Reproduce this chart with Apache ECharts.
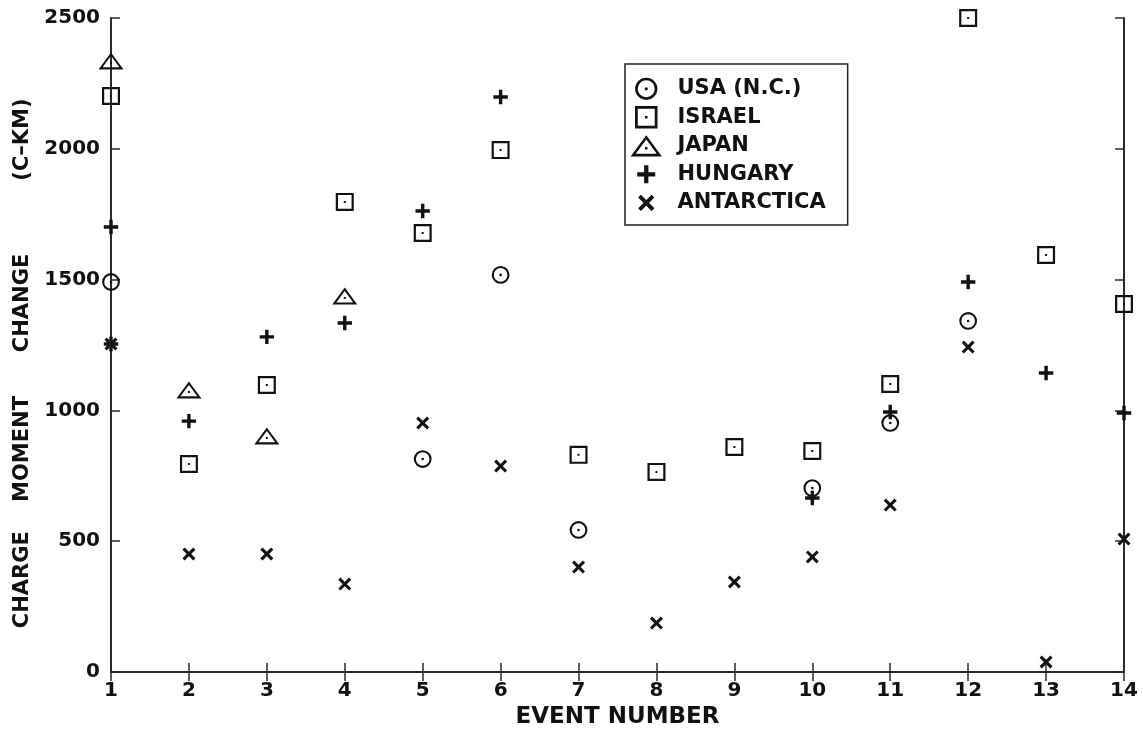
<!DOCTYPE html>
<html>
<head>
<meta charset="utf-8">
<script src="https://cdn.jsdelivr.net/npm/echarts@6/dist/echarts.min.js"></script>
<style>
html,body{margin:0;padding:0;background:#fff;}
#chart{width:1143px;height:748px;}
</style>
</head>
<body>
<div id="chart"></div>
<script>
// ---- data: [event number, charge moment change (C-km)] ----
const seriesNames = ['USA (N.C.)', 'ISRAEL', 'JAPAN', 'HUNGARY', 'ANTARCTICA'];
const usa = [[1,1491],[5,814],[6,1518],[7,543],[10,703],[11,952],[12,1342]];
const israel = [[1,2202],[2,795],[3,1097],[4,1797],[5,1678],[6,1995],[7,830],[8,765],[9,860],[10,845],[11,1101],[12,2500],[13,1594],[14,1407]];
const japan = [[1,2336],[2,1078],[3,902],[4,1437]];
const hungary = [[1,1701],[1,1254],[2,959],[3,1281],[4,1334],[5,1762],[6,2198],[10,665],[11,994],[12,1491],[13,1143],[14,990]];
const antarctica = [[1,1254],[2,451],[3,451],[4,336],[5,952],[6,787],[7,401],[8,187],[9,344],[10,440],[11,638],[12,1242],[13,38],[14,508]];
const xTicks = [1,2,3,4,5,6,7,8,9,10,11,12,13,14];
const yTicks = [0,500,1000,1500,2000,2500];

// ---- marker shapes (26x26 box, centred) ----
const BOX = 'M0,0 Z M26,26 Z ';
const symCircle = 'path://' + BOX +
  'M4.1,13 A8.9,8.9 0 1,0 21.9,13 A8.9,8.9 0 1,0 4.1,13 Z ' +
  'M6.2,13 A6.8,6.8 0 1,1 19.8,13 A6.8,6.8 0 1,1 6.2,13 Z ' +
  'M11.7,13 A1.3,1.3 0 1,0 14.3,13 A1.3,1.3 0 1,0 11.7,13 Z';
const symSquare = 'path://' + BOX +
  'M4,4 H22 V22 H4 Z M6.2,6.2 V19.8 H19.8 V6.2 Z M12,12 H14 V14 H12 Z';
const symTriangle = 'path://' + BOX +
  'M0.5,21.5 L13,4.5 L25.5,21.5 Z M4.6,19.3 L21.4,19.3 L13,7.9 Z M12,14 H14 V16 H12 Z';
const symPlus = 'path://' + BOX +
  'M5.8,11.3 H20.2 V14.7 H5.8 Z M11.3,5.8 H14.7 V20.2 H11.3 Z';
const symX = 'path://' + BOX +
  'M6.5,8.7 L8.7,6.5 L19.5,17.3 L17.3,19.5 Z M17.3,6.5 L19.5,8.7 L8.7,19.5 L6.5,17.3 Z';

const FONT = 'DejaVu Sans';
const INK = '#111';
const AXIS = '#2a2a2a';

function mk(name, data, symbol) {
  return {
    name: name, type: 'scatter', data: data,
    symbol: symbol, symbolSize: 26, symbolKeepAspect: true,
    clip: false,
    itemStyle: {color: INK, opacity: 1, borderWidth: 0},
    emphasis: {disabled: true},
    xAxisIndex: 0, yAxisIndex: 0
  };
}

const sp = n => '\u00a0'.repeat(n);
const yName = 'CHARGE' + sp(4) + 'MOMENT' + sp(6) + 'CHANGE' + sp(10) + '(C\u2013KM)' + sp(5);

const chart = echarts.init(document.getElementById('chart'), null, {renderer: 'canvas'});
const axisCommon = {
  axisLine: {show: true, lineStyle: {color: AXIS, width: 2}},
  axisTick: {show: true, inside: true, length: 9, lineStyle: {color: AXIS, width: 1.5}},
  splitLine: {show: false}
};
chart.setOption({
  animation: false,
  backgroundColor: '#fff',
  grid: {left: 111, right: 19, top: 18, bottom: 76, containLabel: false},
  legend: {
    data: seriesNames,
    orient: 'vertical',
    left: 625, top: 64,
    padding: [8.5, 22, 6, 5],
    itemWidth: 32.5, itemHeight: 32.5, itemGap: -4,
    borderColor: '#222', borderWidth: 1.5,
    selectedMode: false,
    textStyle: {fontFamily: FONT, fontWeight: 'bold', fontSize: 21, color: INK, padding: [0,0,0,10]}
  },
  xAxis: [
    Object.assign({
      type: 'value', min: xTicks[0], max: xTicks[xTicks.length-1], interval: 1,
      name: 'EVENT NUMBER', nameLocation: 'middle', nameGap: 32,
      nameTextStyle: {fontFamily: FONT, fontWeight: 'bold', fontSize: 23, color: INK},
      axisLabel: {fontFamily: FONT, fontWeight: 'bold', fontSize: 20, color: INK, margin: 9,
                  formatter: v => String(v)}
    }, axisCommon),
    Object.assign({
      type: 'value', position: 'top', min: xTicks[0], max: xTicks[xTicks.length-1], interval: 1,
      axisLabel: {show: false}
    }, axisCommon)
  ],
  yAxis: [
    Object.assign({
      type: 'value', min: yTicks[0], max: yTicks[yTicks.length-1], interval: 500,
      name: yName,
      nameLocation: 'middle', nameGap: 57,
      nameTextStyle: {fontFamily: FONT, fontWeight: 'bold', fontSize: 21, color: INK},
      axisLabel: {fontFamily: FONT, fontWeight: 'bold', fontSize: 20, color: INK, margin: 11,
                  formatter: v => String(v)}
    }, axisCommon),
    Object.assign({
      type: 'value', position: 'right', min: yTicks[0], max: yTicks[yTicks.length-1], interval: 500,
      axisLabel: {show: false}
    }, axisCommon)
  ],
  series: [
    mk(seriesNames[0], usa, symCircle),
    mk(seriesNames[1], israel, symSquare),
    mk(seriesNames[2], japan, symTriangle),
    mk(seriesNames[3], hungary, symPlus),
    mk(seriesNames[4], antarctica, symX)
  ]
});
</script>
</body>
</html>
